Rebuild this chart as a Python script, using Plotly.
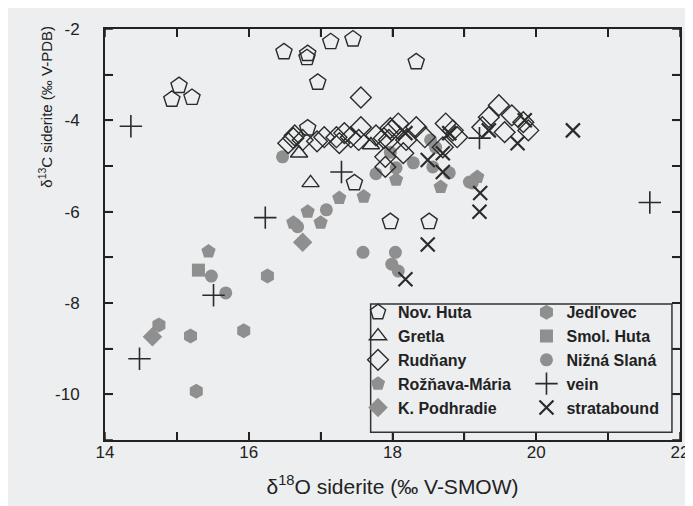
import plotly.graph_objects as go

# ---- data (δ18O, δ13C) ----
nov_huta_x = [15.03, 14.93, 15.21, 16.49, 16.82, 16.81, 17.14, 17.45, 16.96, 16.82, 17.47, 18.33, 17.97, 18.51]
nov_huta_y = [-3.24, -3.54, -3.50, -2.50, -2.54, -2.63, -2.28, -2.22, -3.17, -4.17, -5.37, -2.72, -6.22, -6.22]

gretla_x = [16.70, 16.86, 17.70]
gretla_y = [-4.72, -5.37, -4.54]

rudnany_x = [17.56, 16.62, 16.55, 16.75, 16.64, 17.05, 17.22, 17.33, 17.42, 17.56, 17.53, 17.77, 17.88, 17.97,
             17.90, 18.08, 17.99, 18.33, 18.45, 18.19, 17.95, 18.15, 17.90, 18.74, 18.84, 18.90, 18.70, 19.48,
             19.34, 19.25, 19.66, 19.56, 19.89, 19.82, 17.26, 16.95]
rudnany_y = [-3.50, -4.39, -4.50, -4.43, -4.33, -4.37, -4.37, -4.28, -4.37, -4.15, -4.43, -4.33, -4.39, -4.17,
             -5.02, -4.07, -4.22, -4.15, -4.37, -4.43, -4.43, -4.72, -4.80, -4.07, -4.22, -4.37, -4.59, -3.67,
             -3.93, -4.15, -3.89, -4.26, -4.22, -4.04, -4.50, -4.46]

roznava_x = [17.26, 17.60, 16.82, 17.00, 16.62, 15.44, 18.67, 19.18, 18.05]
roznava_y = [-5.70, -5.67, -6.00, -6.24, -6.24, -6.87, -5.46, -5.24, -5.30]

podhradie_x = [14.66, 16.75]
podhradie_y = [-8.74, -6.67]

jedlovec_x = [16.26, 15.93, 15.19, 14.75, 15.27]
jedlovec_y = [-7.41, -8.61, -8.72, -8.48, -9.93]

smol_huta_x = [15.30]
smol_huta_y = [-7.28]

nizna_x = [16.47, 17.77, 17.97, 15.48, 15.68, 16.68, 17.08, 17.59, 17.99, 18.04, 18.08, 18.05, 18.29,
           18.53, 18.60, 18.56, 18.79, 19.07, 19.11]
nizna_y = [-4.80, -5.17, -4.70, -7.41, -7.78, -6.33, -5.96, -6.89, -7.15, -6.89, -7.30, -5.04, -4.93,
           -4.43, -4.59, -5.02, -5.15, -5.35, -5.37]

vein_x = [14.36, 17.29, 16.23, 15.51, 14.48, 19.21, 21.58]
vein_y = [-4.13, -5.13, -6.13, -7.83, -9.22, -4.39, -5.80]

strata_x = [18.18, 18.49, 18.70, 18.79, 18.70, 19.34, 19.84, 19.74, 20.51, 19.22, 19.21, 18.49, 18.18]
strata_y = [-4.28, -4.87, -4.72, -4.28, -5.13, -4.22, -4.00, -4.50, -4.22, -5.59, -6.00, -6.72, -7.48]

x_tickvals = [14, 15, 16, 17, 18, 19, 20, 21, 22]
x_ticktext = ["14", "", "16", "", "18", "", "20", "", "22"]
y_tickvals = [-2, -3, -4, -5, -6, -7, -8, -9, -10, -11]
y_ticktext = ["-2", "", "-4", "", "-6", "", "-8", "", "-10", ""]

GREY = "#8f8f8f"
DARK = "#2b2b2b"
BG = "#eceef0"
FONT = "Liberation Sans, Arial, sans-serif"

W, H = 693, 506
ML, MR, MT, MB = 97, 12, 18, 74
PW, PH = W - ML - MR, H - MT - MB
TICKLEN = 8

fig = go.Figure()

def add(name, xs, ys, symbol, size, legend, rank, filled, lw=1.4):
    if filled:
        marker = dict(symbol=symbol, size=size, color=GREY, line=dict(width=0))
    else:
        marker = dict(symbol=symbol, size=size, color=DARK, line=dict(width=lw, color=DARK))
    fig.add_trace(go.Scatter(x=xs, y=ys, mode="markers", name=name, marker=marker,
                             legend=legend, legendrank=rank, legendgroup=name))

# filled (drawn first)
add("Rožňava-Mária", roznava_x, roznava_y, "pentagon", 15, "legend", 4, True)
add("K. Podhradie", podhradie_x, podhradie_y, "diamond", 15, "legend", 5, True)
add("Jedľovec", jedlovec_x, jedlovec_y, "hexagon", 15, "legend2", 1, True)
add("Smol. Huta", smol_huta_x, smol_huta_y, "square", 13, "legend2", 2, True)
add("Nižná Slaná", nizna_x, nizna_y, "circle", 13, "legend2", 3, True)
# open
add("Nov. Huta", nov_huta_x, nov_huta_y, "pentagon-open", 17, "legend", 1, False)
add("Gretla", gretla_x, gretla_y, "triangle-up-open", 15, "legend", 2, False)
add("Rudňany", rudnany_x, rudnany_y, "diamond-open", 16, "legend", 3, False)
add("vein", vein_x, vein_y, "cross-thin", 16, "legend2", 4, False, 1.6)
add("stratabound", strata_x, strata_y, "x-thin", 14, "legend2", 5, False, 2.2)

legend_common = dict(
    bgcolor="rgba(0,0,0,0)", borderwidth=0, traceorder="grouped", tracegroupgap=0,
    font=dict(family=FONT, size=16, color="#222", weight="bold"),
    yanchor="top", xanchor="left", orientation="v", itemclick=False,
)

axis_common = dict(
    showgrid=False, zeroline=False, showline=True, linecolor="#222", linewidth=2,
    mirror="ticks", ticks="inside", ticklen=TICKLEN, tickwidth=1.5, tickcolor="#222",
    tickfont=dict(family=FONT, size=17, color="#222"),
)

# tick marks on all four sides, placed at the tick values
tick_line = dict(color="#222", width=1.5)
tick_shapes = []
for v in x_tickvals:
    tick_shapes.append(dict(type="line", xref="x", yref="paper", x0=v, x1=v, y0=0, y1=TICKLEN / PH, line=tick_line))
    tick_shapes.append(dict(type="line", xref="x", yref="paper", x0=v, x1=v, y0=1 - TICKLEN / PH, y1=1, line=tick_line))
for v in y_tickvals:
    tick_shapes.append(dict(type="line", xref="paper", yref="y", x0=0, x1=TICKLEN / PW, y0=v, y1=v, line=tick_line))
    tick_shapes.append(dict(type="line", xref="paper", yref="y", x0=1 - TICKLEN / PW, x1=1, y0=v, y1=v, line=tick_line))

legend_box = dict(type="rect", xref="paper", yref="paper", x0=0.462, x1=0.986, y0=0.019, y1=0.331,
                  line=dict(color="#333", width=1.5), fillcolor="rgba(0,0,0,0)")

fig.update_layout(
    width=W, height=H,
    margin=dict(l=ML, r=MR, t=MT, b=MB),
    paper_bgcolor=BG, plot_bgcolor=BG,
    font=dict(family=FONT, color="#222"),
    showlegend=True,
    legend=dict(x=0.44, y=0.352, **legend_common),
    legend2=dict(x=0.733, y=0.352, **legend_common),
    xaxis=dict(range=[14, 22], tickmode="array", tickvals=x_tickvals, ticktext=x_ticktext,
               ticklabelstandoff=-4,
               title=dict(text="δ<sup>18</sup>O siderite (‰ V-SMOW)", standoff=18,
                          font=dict(size=21, family=FONT, color="#222")),
               **axis_common),
    yaxis=dict(range=[-11, -2], tickmode="array", tickvals=y_tickvals, ticktext=y_ticktext,
               ticklabelstandoff=20,
               **axis_common),
    annotations=[dict(text="δ<sup>13</sup>C siderite (‰ V-PDB)", textangle=-90,
                      xref="paper", yref="paper", x=-0.105, y=0.81, showarrow=False,
                      xanchor="center", yanchor="middle",
                      font=dict(size=15, family=FONT, color="#222"))],
    shapes=tick_shapes + [legend_box],
)

fig.write_html("out.html")
